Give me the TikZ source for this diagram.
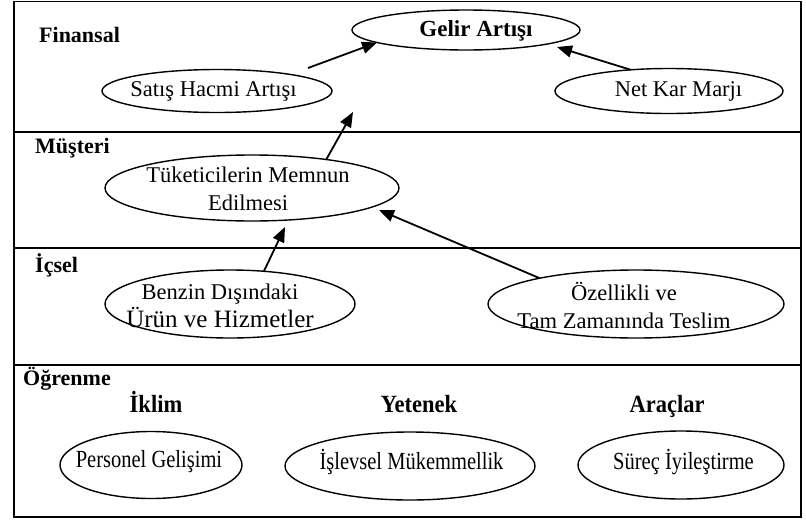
\documentclass[tikz,border=0pt]{standalone}
\usepackage{fontspec}
\usepackage{graphicx}
\setmainfont{Liberation Serif}
\usetikzlibrary{arrows.meta,shapes.geometric}
\begin{document}
\begin{tikzpicture}[x=1pt,y=-1pt,
  frame/.style={line width=1.8pt},
  ell/.style={draw, ellipse, line width=1.4pt, inner sep=0pt, outer sep=0pt},
  arr/.style={line width=1.8pt, -{Triangle[length=15pt,width=12pt]}},
  txt/.style={font=\fontsize{22.5}{28}\selectfont, align=center, inner sep=0pt},
  boldtxt/.style={font=\bfseries\fontsize{23}{28}\selectfont, inner sep=0pt},
  sect/.style={font=\bfseries\fontsize{22}{26}\selectfont, anchor=west, inner sep=0pt},
  head/.style={font=\bfseries\fontsize{22.5}{26}\selectfont, inner sep=0pt, anchor=base},
  small/.style={font=\fontsize{20.5}{24}\selectfont, inner sep=0pt},
]
\useasboundingbox (0,0) rectangle (806,520);

% outer frame and the four perspective bands
\draw[frame] (14,1.5) rectangle (801,517);
\draw[frame] (14,132) -- (801,132);
\draw[frame] (14,248) -- (801,248);
\draw[frame] (14,365) -- (801,365);

% band titles
\node[sect] (fin) at (39,35) {Finansal};
\node[sect] (mus) at (35,148) {Müşteri};
\node[sect] (ics) at (35,265) {İçsel};
\node[sect] (ogr) at (23,379) {Öğrenme};

% financial objectives
\node[ell, minimum width=228, minimum height=40] (gel) at (466,30) {};
\node[boldtxt] (gelT) at (476,31) {Gelir Artışı};
\node[ell, minimum width=230, minimum height=43] (sat) at (217,91) {};
\node[txt] (satT) at (213.5,91) {Satış Hacmi Artışı};
\node[ell, minimum width=228, minimum height=45] (net) at (669,91) {};
\node[txt] (netT) at (678.5,91) {Net Kar Marjı};

% customer objective
\node[ell, minimum width=294, minimum height=66] (tuk) at (252,188) {};
\node[txt] (tukT) at (248,189) {Tüketicilerin Memnun\\Edilmesi};

% internal process objectives
\node[ell, minimum width=250, minimum height=68] (ben) at (230,304) {};
\node[txt] (benT) at (220,306) {Benzin Dışındaki\\{\fontsize{25}{28}\selectfont Ürün ve Hizmetler}};
\node[ell, minimum width=296, minimum height=68] (ozl) at (636,304) {};
\node[txt] (ozlT) at (624,305) {Özellikli ve\\Tam Zamanında Teslim};

% learning and growth
\node[head] (ikl) at (156,412) {\scalebox{1}[1.1]{İklim}};
\node[head] (yet) at (419,412) {\scalebox{1}[1.1]{Yetenek}};
\node[head] (ara) at (667,412) {\scalebox{1}[1.1]{Araçlar}};
\node[ell, minimum width=182, minimum height=67] (per) at (151,465) {};
\node[small] (perT) at (149,462) {\scalebox{1}[1.2]{Personel Gelişimi}};
\node[ell, minimum width=250, minimum height=68] (isl) at (410,466) {};
\node[small] (islT) at (411.5,462) {\scalebox{1}[1.2]{İşlevsel Mükemmellik}};
\node[ell, minimum width=206, minimum height=68] (sur) at (681,465) {};
\node[small] (surT) at (683.5,462) {\scalebox{1}[1.2]{Süreç İyileştirme}};

% arrow ends that stop short of a shape
\coordinate (satOut) at (308,68);
\coordinate (netIn) at (557,47);
\coordinate (tukUp) at (353,112);
\coordinate (tukInR) at (379,210);
\coordinate (tukInB) at (285,227);

% cause-and-effect links
\draw[arr] (satOut) -- (gel.188);
\draw[arr] (net.151) -- (netIn);
\draw[arr] (tuk.21) -- (tukUp);
\draw[arr] (ozl.165) -- (tukInR);
\draw[arr] (ben.44) -- (tukInB);
\end{tikzpicture}
\end{document}
